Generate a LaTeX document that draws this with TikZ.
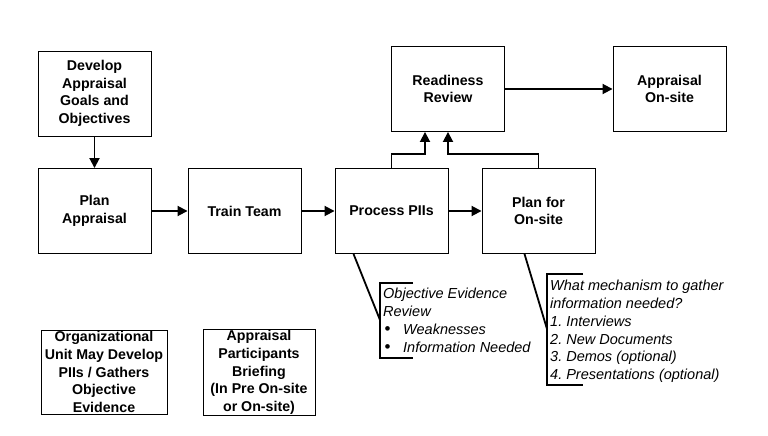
\documentclass[tikz,border=0pt]{standalone}
\usepackage{fontspec}
\setmainfont{Liberation Sans}
\usetikzlibrary{arrows.meta}
\frenchspacing
\newcommand{\bul}{\makebox[20pt][l]{\hspace{1.5pt}\upshape\fontsize{17}{17}\selectfont\raisebox{-0.3pt}{\textbullet}}}
\begin{document}
\begin{tikzpicture}[x=1pt,y=-1pt,
  box/.style={draw,line width=0.9pt,minimum width=113pt,minimum height=85pt,inner sep=0pt,align=center,font=\bfseries\fontsize{14.2}{17.6}\selectfont},
  smallbox/.style={draw,line width=0.9pt,inner sep=1pt,align=center,font=\bfseries\fontsize{14.2}{17.6}\selectfont},
  arr/.style={line width=1.8pt,-{Triangle[length=10pt,width=10pt]}},
  thick line/.style={line width=1.8pt},
  note/.style={inner sep=0pt,align=left,anchor=north west,font=\itshape\fontsize{14.5}{17.8}\selectfont}]
\useasboundingbox (0,0) rectangle (768,436);
\node[box] (dev) at (94.5,93.5) {Develop\\Appraisal\\Goals and\\Objectives};
\node[box] (plan) at (94.5,211) {Plan\\Appraisal};
\node[box] (train) at (244.5,211) {Train Team};
\node[box] (proc) at (391.5,211) {Process PIIs};
\node[box] (pos) at (538.5,211) {Plan for\\On-site};
\node[box] (rr) at (448,89) {Readiness\\Review};
\node[box] (aos) at (669.5,89) {Appraisal\\On-site};
\node[smallbox,minimum width=126pt,minimum height=84pt] (org) at (104,372) {Organizational\\Unit May Develop\\PIIs / Gathers\\Objective\\Evidence};
\node[smallbox,minimum width=112pt,minimum height=84pt] (brief) at (259,372.5) {Appraisal\\Participants\\Briefing\\(In Pre On-site\\or On-site)};
\draw[arr] (dev) -- (plan);
\draw[arr] (plan) -- (train);
\draw[arr] (train) -- (proc);
\draw[arr] (proc) -- (pos);
\draw[arr] (rr) -- (aos);
\draw[arr] (proc.north) -- ++(0,-14) -| ([xshift=-23pt]rr.south);
\draw[arr] (pos.north) -- ++(0,-14) -| (rr.south);
% callout 1
\coordinate (c1) at (380,320);
\draw[thick line] ([xshift=-38pt]proc.south) -- (c1);
\draw[thick line] (413,283) -- (380,283) -- (380,358) -- (413,358);
\node[note] (n1) at (383,288) {Objective Evidence\\Review\\\bul Weaknesses\\\bul Information Needed};
% callout 2
\coordinate (c2) at (547,329);
\draw[thick line] ([xshift=-14pt]pos.south) -- (c2);
\draw[thick line] (583,274) -- (547,274) -- (547,385) -- (583,385);
\node[note] (n2) at (550,280) {What mechanism to gather\\information needed?\\1. Interviews\\2. New Documents\\3. Demos (optional)\\4. Presentations (optional)};
\end{tikzpicture}
\end{document}
